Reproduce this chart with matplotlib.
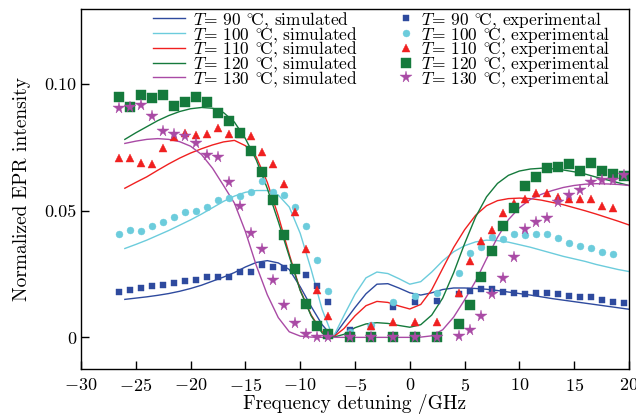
import numpy as np
import matplotlib
matplotlib.use('Agg')
import matplotlib.pyplot as plt

plt.rcParams['font.family'] = ['cmr10', 'DejaVu Serif']
plt.rcParams['mathtext.fontset'] = 'cm'
plt.rcParams['axes.formatter.use_mathtext'] = True

# Simulated curves
x_sim = list(range(-26, 21))
sim_90 = [0.0150, 0.0155, 0.0160, 0.0166, 0.0173, 0.0182, 0.0193, 0.0206, 0.0222, 0.0238,
          0.0256, 0.0278, 0.0296, 0.0303, 0.0294, 0.0268, 0.0200, 0.0122, 0.0050, 0.0000,
          0.0060, 0.0118, 0.0172, 0.0210, 0.0212, 0.0195, 0.0176, 0.0167, 0.0176, 0.0189,
          0.0195, 0.0195, 0.0193, 0.0190, 0.0185, 0.0179, 0.0173, 0.0167, 0.0160, 0.0153,
          0.0147, 0.0141, 0.0135, 0.0129, 0.0123, 0.0117, 0.0111]
sim_100 = [0.0351, 0.0367, 0.0384, 0.0403, 0.0422, 0.0443, 0.0464, 0.0487, 0.0512, 0.0537,
           0.0558, 0.0573, 0.0580, 0.0580, 0.0562, 0.0515, 0.0411, 0.0268, 0.0110, 0.0000,
           0.0087, 0.0170, 0.0235, 0.0258, 0.0252, 0.0232, 0.0210, 0.0220, 0.0258, 0.0302,
           0.0338, 0.0362, 0.0377, 0.0384, 0.0382, 0.0376, 0.0366, 0.0356, 0.0344, 0.0332,
           0.0320, 0.0310, 0.0300, 0.0288, 0.0278, 0.0268, 0.0260]
sim_110 = [0.0589, 0.0612, 0.0634, 0.0660, 0.0685, 0.0708, 0.0728, 0.0745, 0.0760, 0.0772,
           0.0778, 0.0757, 0.0712, 0.0612, 0.0480, 0.0328, 0.0187, 0.0088, 0.0022, 0.0000,
           0.0035, 0.0085, 0.0125, 0.0142, 0.0138, 0.0124, 0.0112, 0.0130, 0.0188, 0.0272,
           0.0355, 0.0425, 0.0482, 0.0520, 0.0540, 0.0548, 0.0550, 0.0548, 0.0542, 0.0533,
           0.0524, 0.0512, 0.0500, 0.0487, 0.0473, 0.0459, 0.0444]
sim_120 = [0.0782, 0.0808, 0.0832, 0.0856, 0.0876, 0.0892, 0.0903, 0.0908, 0.0905, 0.0888,
           0.0850, 0.0785, 0.0700, 0.0588, 0.0458, 0.0320, 0.0185, 0.0085, 0.0017, 0.0000,
           0.0012, 0.0038, 0.0053, 0.0058, 0.0055, 0.0047, 0.0040, 0.0050, 0.0088, 0.0155,
           0.0255, 0.0370, 0.0475, 0.0555, 0.0608, 0.0640, 0.0657, 0.0665, 0.0668, 0.0666,
           0.0661, 0.0654, 0.0645, 0.0633, 0.0622, 0.0611, 0.0600]
sim_130 = [0.0766, 0.0775, 0.0782, 0.0785, 0.0782, 0.0773, 0.0755, 0.0722, 0.0668, 0.0600,
           0.0530, 0.0418, 0.0283, 0.0168, 0.0078, 0.0022, 0.0005, 0.0001, 0.0000, 0.0000,
           0.0000, 0.0000, 0.0000, 0.0000, 0.0000, 0.0000, 0.0000, 0.0001, 0.0006, 0.0030,
           0.0080, 0.0148, 0.0222, 0.0310, 0.0395, 0.0465, 0.0512, 0.0545, 0.0565, 0.0580,
           0.0592, 0.0600, 0.0605, 0.0607, 0.0606, 0.0604, 0.0600]

# Experimental points
x_exp = ([-26.5 + i for i in range(20)] + [-5.5, -3.5, -1.5, 0.5, 2.5]
         + [4.5 + i for i in range(16)])
nan = np.nan
exp_90 = [0.0179, 0.0187, 0.0196, 0.0203, 0.0207, 0.0213, 0.0224, 0.0226, 0.0239, 0.0239,
          0.0237, 0.0259, 0.0259, 0.0286, 0.0277, 0.0273, 0.0269, 0.0245, 0.0202, 0.0141,
          0.0029, 0.0042, 0.0121, 0.0138, 0.0143,
          0.0171, 0.0184, 0.0191, 0.0191, 0.0178, 0.0174, 0.0170, 0.0176, 0.0174, 0.0172,
          0.0164, 0.0158, 0.0159, 0.0146, 0.0138, 0.0136]
exp_100 = [0.0407, 0.0424, 0.0420, 0.0440, 0.0457, 0.0474, 0.0494, 0.0499, 0.0516, 0.0542,
           0.0549, 0.0558, 0.0573, 0.0619, 0.0575, 0.0563, 0.0514, 0.0441, 0.0305, 0.0184,
           0.0020, 0.0047, 0.0141, 0.0163, 0.0175,
           0.0254, 0.0335, 0.0355, 0.0395, 0.0390, 0.0407, 0.0405, 0.0407, 0.0407, 0.0394,
           0.0374, 0.0362, 0.0352, 0.0338, 0.0331, nan]
exp_110 = [0.0707, 0.0707, 0.0690, 0.0683, 0.0747, 0.0790, 0.0806, 0.0799, 0.0802, 0.0826,
           0.0802, 0.0805, 0.0796, 0.0733, 0.0685, 0.0606, 0.0496, 0.0348, 0.0187, 0.0085,
           0.0008, 0.0045, 0.0059, 0.0059, 0.0061,
           0.0176, 0.0303, 0.0382, 0.0425, 0.0493, 0.0532, 0.0545, 0.0571, 0.0571, 0.0556,
           0.0547, 0.0545, 0.0545, 0.0517, 0.0510, nan]
exp_120 = [0.0950, 0.0908, 0.0957, 0.0944, 0.0957, 0.0915, 0.0931, 0.0948, 0.0930, 0.0886,
           0.0853, 0.0808, 0.0737, 0.0652, 0.0542, 0.0404, 0.0270, 0.0133, 0.0045, 0.0013,
           0.0000, 0.0000, 0.0002, 0.0002, 0.0000,
           0.0053, 0.0128, 0.0237, 0.0341, 0.0440, 0.0511, 0.0597, 0.0634, 0.0667, 0.0671,
           0.0686, 0.0658, 0.0690, 0.0658, 0.0646, 0.0637]
exp_130 = [0.0907, 0.0911, 0.0918, 0.0873, 0.0816, 0.0803, 0.0796, 0.0766, 0.0720, 0.0713,
           0.0614, 0.0519, 0.0413, 0.0348, 0.0226, 0.0128, 0.0055, 0.0013, 0.0003, 0.0003,
           0.0000, 0.0000, 0.0000, 0.0000, 0.0001,
           0.0005, 0.0028, 0.0084, 0.0173, 0.0236, 0.0319, 0.0428, 0.0457, 0.0473, 0.0535,
           0.0563, 0.0582, 0.0615, 0.0621, 0.0623, 0.0641]

temps = ['90', '100', '110', '120', '130']
colors = ['#2e4a9e', '#6cccdc', '#f02020', '#157a3c', '#a94aa5']
markers = ['s', 'o', '^', 's', '*']
msizes = [4.5, 5.0, 5.5, 6.8, 8.5]

sims = [sim_90, sim_100, sim_110, sim_120, sim_130]
exps = [exp_90, exp_100, exp_110, exp_120, exp_130]

fig = plt.figure(figsize=(6.36, 4.19), dpi=100)
ax = fig.add_axes([81 / 636, 50 / 419, 548 / 636, 360 / 419])

deg = r'$^{\circ}\!$C'

line_handles = []
for t, c, y in zip(temps, colors, sims):
    h, = ax.plot(x_sim, y, color=c, lw=1.0, label=r'$T$= ' + t + ' ' + deg + ', simulated')
    line_handles.append(h)

pt_handles = []
for t, c, m, ms, y in zip(temps, colors, markers, msizes, exps):
    h, = ax.plot(x_exp, y, ls='none', marker=m, ms=ms, color=c, mec=c, mew=0.3,
                 label=r'$T$= ' + t + ' ' + deg + ', experimental')
    pt_handles.append(h)

ax.set_xlim(-30, 20)
ax.set_ylim(-0.0125, 0.1297)
ax.set_xticks(np.arange(-30, 21, 5))
ax.set_yticks([0, 0.05, 0.10])
ax.set_yticklabels(['0', '0.05', '0.10'])
ax.tick_params(direction='in', length=6, width=1.0, labelsize=13)
ax.tick_params(axis='x', pad=6)
ax.tick_params(axis='y', pad=3)
for s in ax.spines.values():
    s.set_linewidth(1.0)

ax.set_xlabel('Frequency detuning /GHz', fontsize=14, labelpad=0)
ax.set_ylabel('Normalized EPR intensity', fontsize=14, labelpad=10)

leg1 = ax.legend(handles=line_handles, loc='upper left', bbox_to_anchor=(0.131, 0.997),
                 frameon=False, fontsize=12.5, labelspacing=-0.3, handlelength=1.85,
                 handletextpad=0.45, borderpad=0, borderaxespad=0)
ax.add_artist(leg1)
ax.legend(handles=pt_handles, loc='upper left', bbox_to_anchor=(0.578, 0.997),
          frameon=False, fontsize=12.5, labelspacing=-0.3, handlelength=0.9,
          handletextpad=0.45, borderpad=0, borderaxespad=0)

fig.savefig('out.png', dpi=100)
